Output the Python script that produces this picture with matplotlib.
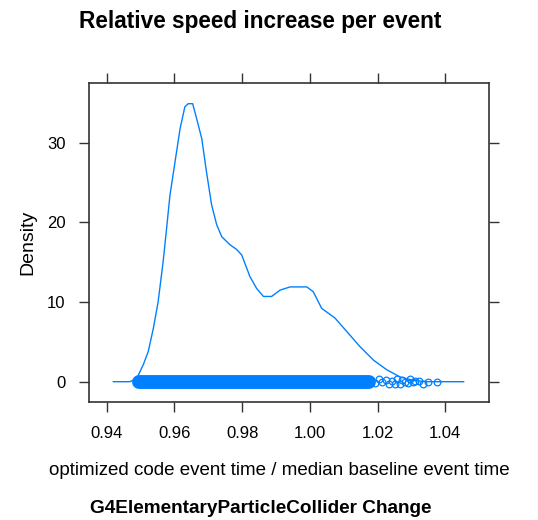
import matplotlib
matplotlib.use("Agg")
import matplotlib.pyplot as plt

plt.rcParams['font.family'] = ['Liberation Sans', 'DejaVu Sans']

# density curve
dens_x = [0.942, 0.9469, 0.9489, 0.9508, 0.9523, 0.9538, 0.9552, 0.9567, 0.9577,
          0.9587, 0.9602, 0.9617, 0.9631, 0.9641, 0.9654, 0.9666, 0.9681, 0.9695,
          0.9710, 0.9725, 0.9740, 0.9764, 0.9784, 0.9799, 0.9823, 0.9843, 0.9863,
          0.9887, 0.9912, 0.9942, 0.9991, 1.0010, 1.0035, 1.0074, 1.0109, 1.0148,
          1.0188, 1.0227, 1.0266, 1.0306, 1.0345, 1.0454]
dens_y = [0, 0, 0.42, 2.1, 3.8, 6.7, 10.0, 15.1, 19.2,
          23.4, 27.6, 31.8, 34.5, 34.9, 34.9, 33.0, 30.5, 26.3,
          22.2, 19.7, 18.2, 17.2, 16.6, 15.9, 13.2, 11.7, 10.7,
          10.7, 11.5, 11.9, 11.9, 11.3, 9.2, 8.0, 6.3, 4.4,
          2.7, 1.5, 0.6, 0.15, 0, 0]

# the bulk of the observations forms a solid band
band_lo = 0.9497
band_hi = 1.0175
# scattered observations in the upper tail (x, jittered y)
tail_x = [1.0150, 1.0165, 1.0180, 1.0192, 1.0205, 1.0214, 1.0225, 1.0234,
          1.0242, 1.0250, 1.0257, 1.0265, 1.0272, 1.0281, 1.0290, 1.0296,
          1.0305, 1.0311, 1.0321, 1.0335, 1.0350, 1.0375]
tail_y = [0.3, -0.3, 0.2, -0.2, 0.35, -0.1, 0.25, -0.35,
          0.1, -0.25, 0.3, -0.3, 0.2, 0.0, -0.2, 0.3,
          -0.1, 0.15, 0.1, -0.25, -0.1, 0.0]

xticks = [0.94, 0.96, 0.98, 1.00, 1.02, 1.04]
yticks = [0, 10, 20, 30]

blue = '#0080ff'
grey = '#333333'

fig = plt.figure(figsize=(5.38, 5.2), dpi=100)
ax = fig.add_axes([0.1654, 0.2269, 0.909 - 0.1654, 0.8404 - 0.2269])

ax.plot(dens_x, dens_y, color=blue, lw=1.0)
ax.plot([band_lo, band_hi], [0, 0], color=blue, lw=10, solid_capstyle='round')
ax.plot(tail_x, tail_y, 'o', mfc='none', mec=blue, ms=4.8, mew=0.9)

ax.set_xlim(0.9348, 1.0529)
ax.set_ylim(-2.55, 37.5)
ax.set_xticks(xticks)
ax.set_xticklabels(['%.2f' % v for v in xticks])
ax.set_yticks(yticks)
ax.tick_params(direction='out', length=7, width=1, color=grey, labelsize=12,
               top=True, right=True, labeltop=False, labelright=False, pad=10)
for s in ax.spines.values():
    s.set_color(grey)
    s.set_linewidth(1.2)

fig.text(0.483, 0.958, 'Relative speed increase per event', ha='center', va='center',
         fontsize=16.3, fontweight='bold')
fig.text(0.52, 0.096, 'optimized code event time / median baseline event time',
         ha='center', va='center', fontsize=13.5)
fig.text(0.484, 0.023, 'G4ElementaryParticleCollider Change', ha='center', va='center',
         fontsize=13.7, fontweight='bold')
fig.text(0.052, 0.533, 'Density', ha='center', va='center', rotation=90, fontsize=14)

fig.savefig('out.png', dpi=100)
